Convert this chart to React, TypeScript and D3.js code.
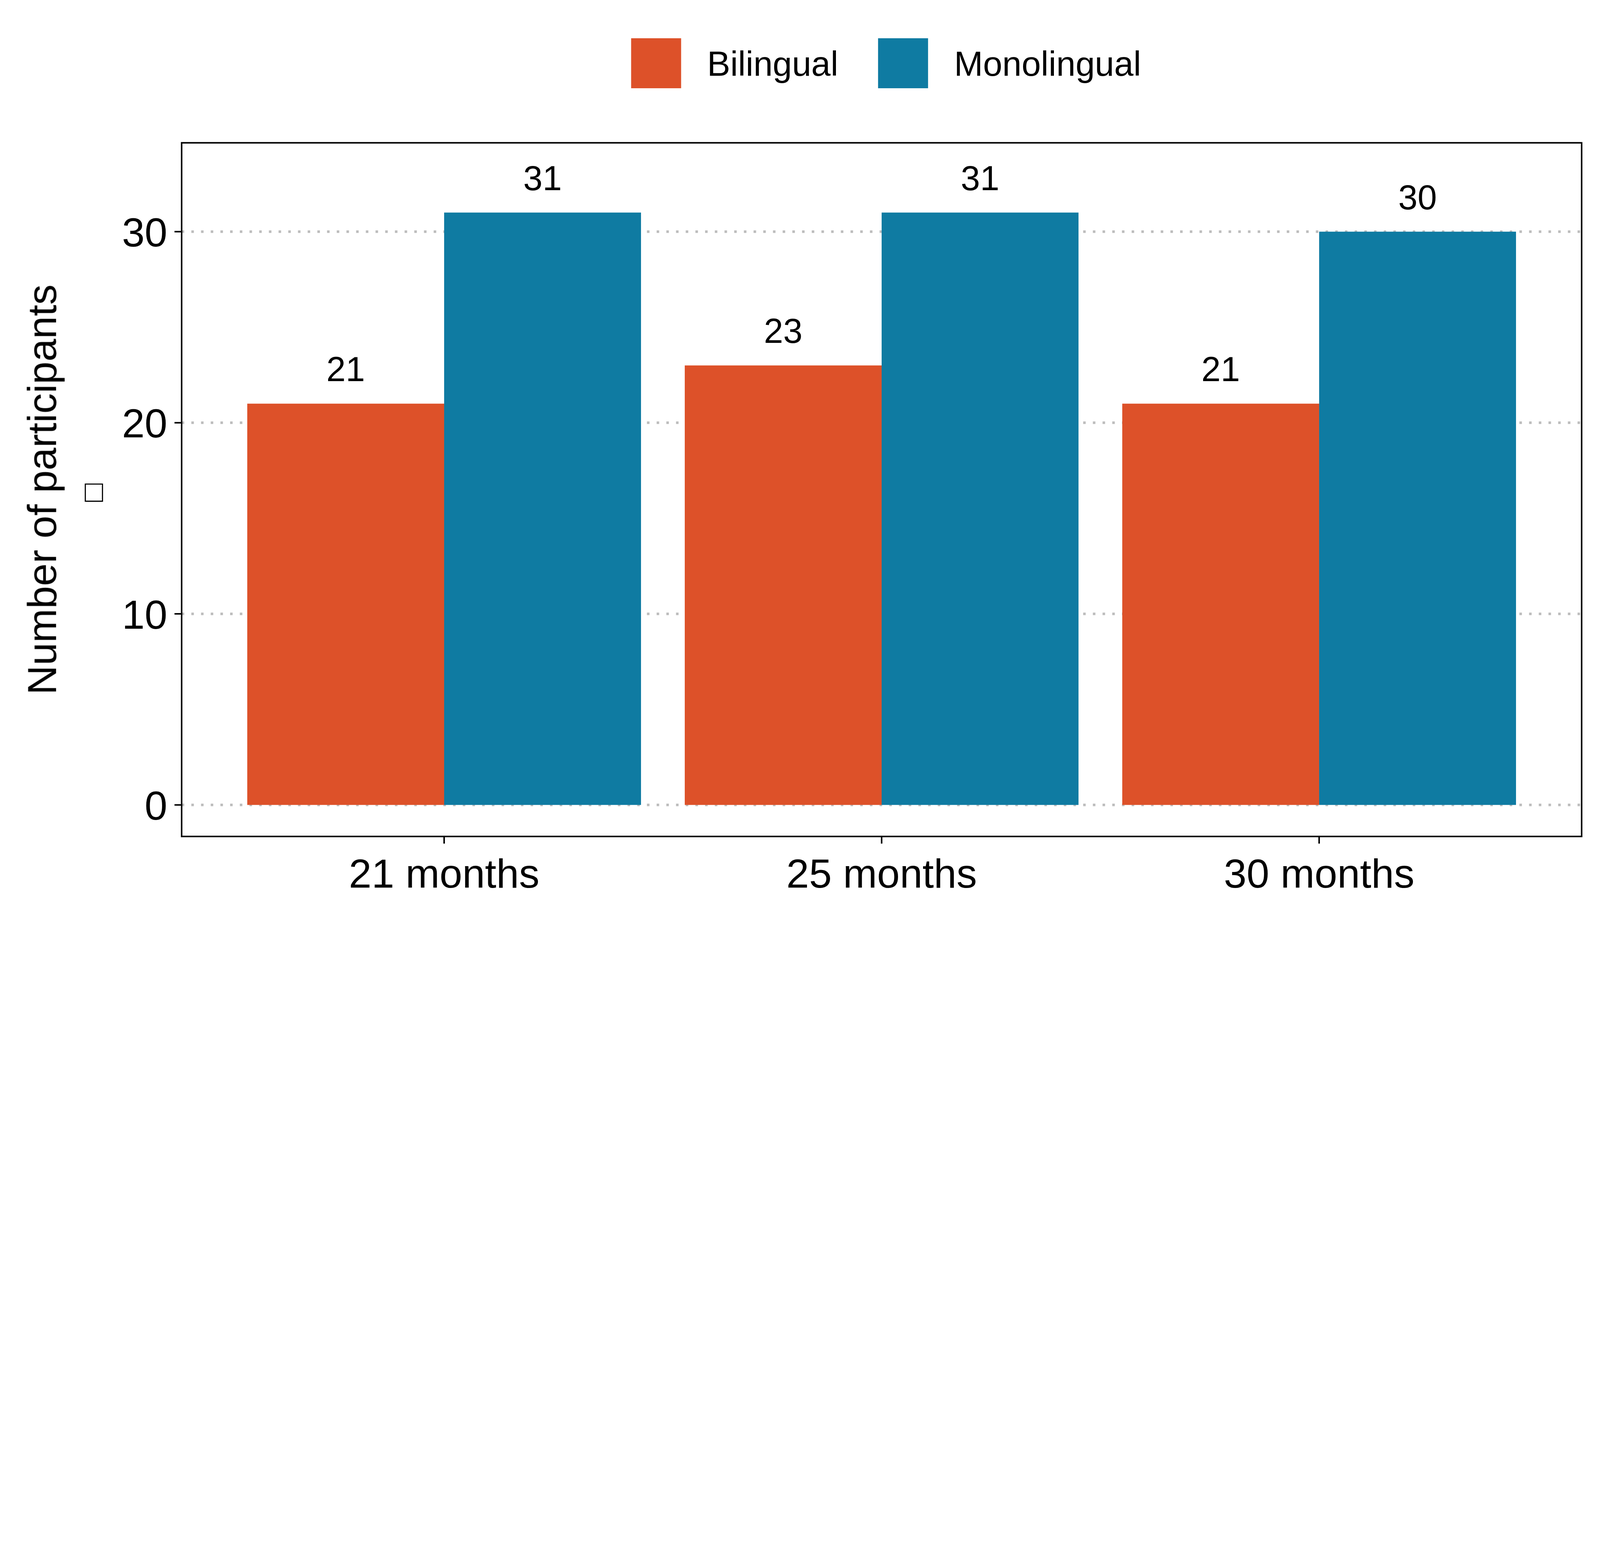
import React from "react";
import * as d3 from "d3";

const categories = ["21 months", "25 months", "30 months"];
const groups = ["Bilingual", "Monolingual"];
const bilingual = [21, 23, 21];
const monolingual = [31, 31, 30];
const yTicks = [0, 10, 20, 30];
const colors = ["#DD5129", "#0F7BA2"];

export default function App() {
  const W = 1568, H = 896;
  const L = 178, R = 1550, T = 140, B = 820;
  const y = d3.scaleLinear().domain([-1.65, 34.65]).range([B, T]);
  const x = d3.scaleLinear().domain([0.4, 3.6]).range([L, R]);
  const bw = (x(1.9) - x(1)) / 2;
  const series = [bilingual, monolingual];
  const font = "Liberation Sans, Arial, sans-serif";
  return (
    <svg width="100vw" height="100vh" viewBox={`0 0 ${W} ${H}`} preserveAspectRatio="xMinYMin meet"
      style={{ position: "fixed", left: 0, top: 0, display: "block" }} fontFamily={font}>
      <rect width={W} height={H} fill="#fff" />
      {yTicks.map(t => (
        <line key={t} x1={L} x2={R} y1={y(t)} y2={y(t)} stroke="#bdbdbd" strokeWidth={2.5} strokeDasharray="2.5 7" />
      ))}
      {categories.map((c, i) => series.map((s, g) => {
        const x0 = x(i + 1) - bw + g * bw;
        return (
          <g key={c + g}>
            <rect x={x0} width={bw} y={y(s[i])} height={y(0) - y(s[i])} fill={colors[g]} />
            <text x={x0 + bw / 2} y={y(s[i]) - 22} textAnchor="middle" fontSize={34}>{s[i]}</text>
          </g>
        );
      }))}
      <rect x={L} y={T} width={R - L} height={B - T} fill="none" stroke="#000" strokeWidth={1.5} />
      {yTicks.map(t => (
        <g key={t}>
          <line x1={L - 7} x2={L} y1={y(t)} y2={y(t)} stroke="#000" strokeWidth={1.5} />
          <text x={L - 14} y={y(t)} dy="0.36em" textAnchor="end" fontSize={40}>{t}</text>
        </g>
      ))}
      {categories.map((c, i) => (
        <g key={c}>
          <line x1={x(i + 1)} x2={x(i + 1)} y1={B} y2={B + 7} stroke="#000" strokeWidth={1.5} />
          <text x={x(i + 1)} y={B + 50} textAnchor="middle" fontSize={40}>{c}</text>
        </g>
      ))}
      <g transform={`translate(55,${(T + B) / 2}) rotate(-90)`}>
        <text textAnchor="middle" fontSize={40}>Number of participants</text>
        <text transform="rotate(90)" x={37} y={12} textAnchor="middle" fontSize={30} fill="#000">□</text>
      </g>
      {groups.map((g, i) => {
        const lx = [618, 860][i];
        return (
          <g key={g}>
            <rect x={lx} y={37} width={50} height={50} fill={colors[i]} stroke="#fff" strokeWidth={1} />
            <text x={lx + 75} y={62} dy="0.36em" fontSize={34}>{g}</text>
          </g>
        );
      })}
    </svg>
  );
}
